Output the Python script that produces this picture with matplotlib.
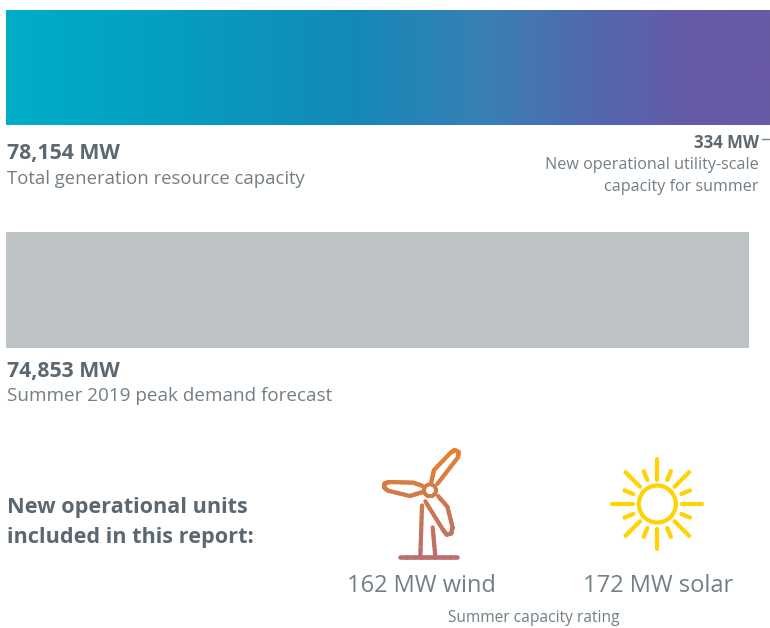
import matplotlib
matplotlib.use('Agg')
import matplotlib.pyplot as plt
import numpy as np
from matplotlib.collections import LineCollection
from matplotlib.colors import LinearSegmentedColormap, to_rgb

bar_values = [78154, 74853]
new_capacity = 334
unit_values = [162, 172]
unit_names = ['wind', 'solar']
bar_labels = ['Total generation resource capacity', 'Summer 2019 peak demand forecast']

plt.rcParams['font.family'] = 'Open Sans'
dark = '#5c6871'
light = '#737e86'
W, H = 770, 628
mw_scale = 743 / 74853

fig = plt.figure(figsize=(W / 100, H / 100), dpi=100, facecolor='white')

# bars axis: x in MW, y in pixels
ax_b = fig.add_axes([0, 0, 1, 1])
ax_b.set_xlim(-6 / mw_scale, (W - 6) / mw_scale)
ax_b.set_ylim(H, 0)
ax_b.axis('off')

grad = LinearSegmentedColormap.from_list('g', [
    (0, '#00aec8'), (0.2, '#059fc1'), (0.45, '#1489b8'), (0.62, '#3a7fb5'),
    (0.76, '#5268ae'), (0.88, '#655aa8'), (1, '#6a5aa6')])
ax_b.imshow(np.linspace(0, 1, 512).reshape(1, -1), cmap=grad, aspect='auto',
            extent=(0, bar_values[0], 125, 10), interpolation='bilinear')
ax_b.barh([290], [bar_values[1]], height=116, color='#bdc2c5')
ax_b.set_xlim(-6 / mw_scale, (W - 6) / mw_scale)
ax_b.set_ylim(H, 0)

# text and icons axis: pixels
ax = fig.add_axes([0, 0, 1, 1])
ax.set_xlim(0, W)
ax.set_ylim(H, 0)
ax.axis('off')

ax.text(7, 154, f'{bar_values[0]:,} MW', fontsize=15.3, fontweight='bold', color=dark, va='center')
ax.text(7, 179, bar_labels[0], fontsize=13.3, color=light, va='center')
ax.text(7, 371, f'{bar_values[1]:,} MW', fontsize=15.3, fontweight='bold', color=dark, va='center')
ax.text(7, 396, bar_labels[1], fontsize=13.6, color=light, va='center')

ax.text(759, 143, f'{new_capacity} MW', fontsize=12.1, fontweight='bold', color=dark, va='center', ha='right')
ax.text(759, 165, 'New operational utility-scale', fontsize=11.6, color=light, va='center', ha='right')
ax.text(759, 187, 'capacity for summer', fontsize=11.6, color=light, va='center', ha='right')
ax.plot([762, 770], [139, 139], color='#7a858c', lw=1)

ax.text(7, 508, 'New operational units', fontsize=15.6, fontweight='bold', color=dark, va='center')
ax.text(7, 538, 'included in this report:', fontsize=15.6, fontweight='bold', color=dark, va='center')

ax.text(421, 586, f'{unit_values[0]} MW {unit_names[0]}', fontsize=17, color=light, va='center', ha='center')
ax.text(658, 586, f'{unit_values[1]} MW {unit_names[1]}', fontsize=17, color=light, va='center', ha='center')
ax.text(534, 618, 'Summer capacity rating', fontsize=11.2, color=light, va='center', ha='center')

# wind turbine icon, colour fades from orange to dusty rose going down
top_col = np.array(to_rgb('#e5822f'))
bot_col = np.array(to_rgb('#b96f6f'))


def turbine_line(pts, lw=3.0):
    pts = np.array(pts, dtype=float)
    pts = pts / 3 + [360, 440]
    segs, cols = [], []
    for a, b in zip(pts[:-1], pts[1:]):
        ts = np.linspace(0, 1, 9)
        p = a + (b - a) * ts[:, None]
        for p0, p1 in zip(p[:-1], p[1:]):
            segs.append([p0, p1])
            t = np.clip(((p0[1] + p1[1]) / 2 - 450) / 108, 0, 1)
            cols.append(top_col * (1 - t) + bot_col * t)
    ax.add_collection(LineCollection(segs, colors=cols, linewidths=lw, capstyle='round'))


turbine_line([(214, 125), (222, 90), (272, 38), (284, 30), (296, 36), (294, 52), (232, 132)])
turbine_line([(188, 138), (160, 128), (88, 126), (74, 130), (72, 142), (84, 152), (150, 168), (188, 156)])
turbine_line([(234, 168), (262, 200), (278, 262), (274, 280), (260, 284), (248, 268), (196, 184)])
turbine_line([(186, 196), (181, 350)])
turbine_line([(218, 262), (226, 350)])
turbine_line([(120, 350), (290, 350)], lw=3.3)
hub = np.linspace(0, 2 * np.pi, 30)
turbine_line(np.c_[210 + 18 * np.cos(hub), 151 + 18 * np.sin(hub)], lw=2.4)

# sun icon
sun = (657.3, 504)
sun_col = '#ffd200'
ax.add_patch(plt.Circle(sun, 18.5, fill=False, ec=sun_col, lw=3))
for i in range(16):
    ang = np.deg2rad(i * 22.5)
    r0, r1 = (24.5, 45) if i % 2 == 0 else (26, 35.5)
    ax.plot([sun[0] + r0 * np.cos(ang), sun[0] + r1 * np.cos(ang)],
            [sun[1] + r0 * np.sin(ang), sun[1] + r1 * np.sin(ang)],
            color=sun_col, lw=3, solid_capstyle='round')

fig.savefig('out.png', dpi=100)
